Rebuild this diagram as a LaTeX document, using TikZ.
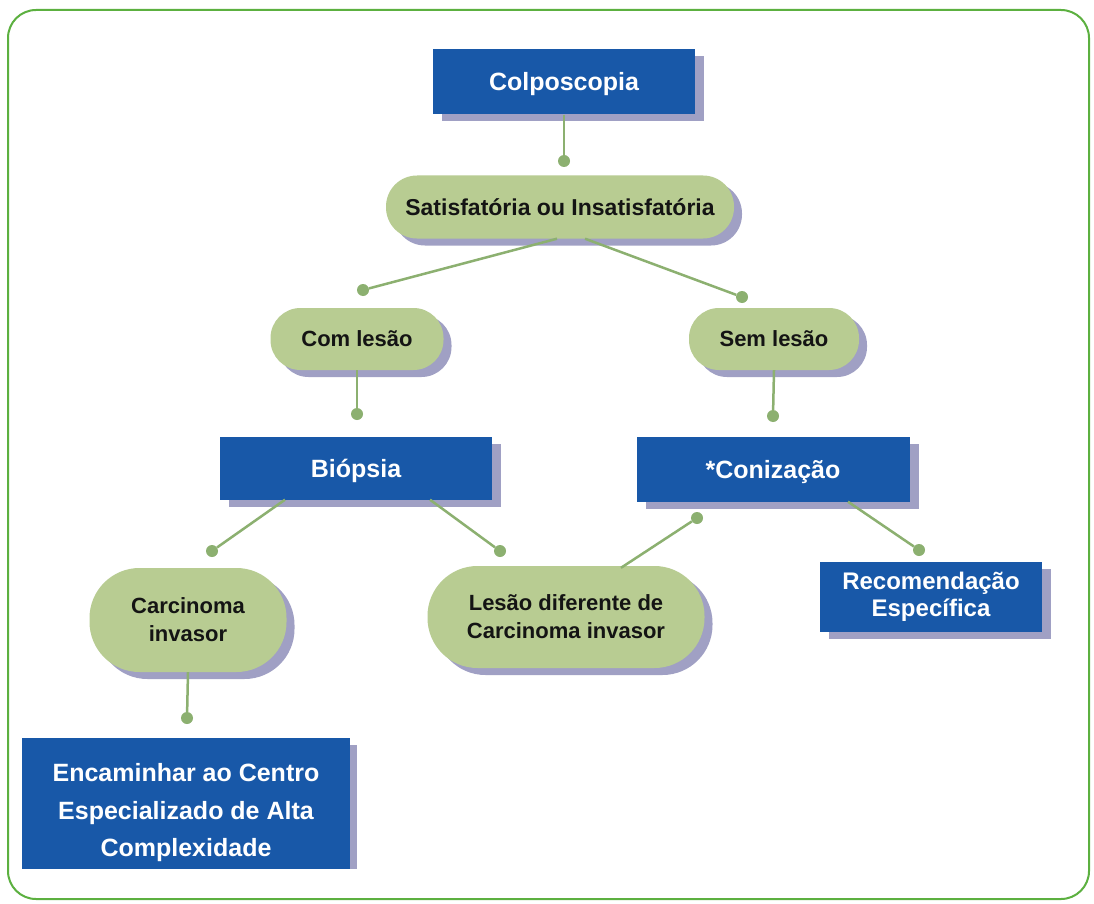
\documentclass[tikz,border=0pt]{standalone}
\usepackage{fontspec}
\setmainfont{Liberation Sans}
\usetikzlibrary{shadows,calc}
\definecolor{boxblue}{RGB}{24,88,168}
\definecolor{shadowc}{RGB}{160,160,196}
\definecolor{pillgreen}{RGB}{184,204,146}
\definecolor{linegreen}{RGB}{140,176,112}
\definecolor{framegreen}{RGB}{92,176,64}
\definecolor{pilltext}{RGB}{20,20,20}
\begin{document}
\begin{tikzpicture}[x=1pt,y=-1pt,
  bluebox/.style={fill=boxblue, text=white, font=\bfseries\fontsize{25}{27}\selectfont,
    align=center, inner sep=0pt,
    drop shadow={shadow xshift=9pt, shadow yshift=-7pt, fill=shadowc, opacity=1}},
  oneline/.style={text height=18pt, text depth=0pt},
  pill/.style={fill=pillgreen, text=pilltext, font=\bfseries\fontsize{22}{28}\selectfont,
    align=center, inner sep=0pt,
    drop shadow={shadow xshift=8pt, shadow yshift=-7pt, fill=shadowc, opacity=1}},
  dot/.style={circle, fill=linegreen, minimum size=12pt, inner sep=0pt},
  conn/.style={linegreen, line width=2.5pt}]
\useasboundingbox (0,0) rectangle (1094,904);
\fill[white] (0,0) rectangle (1094,904);
\draw[framegreen, line width=2pt, rounded corners=28pt] (8,10) rectangle (1089,899);

% nodes
\node[bluebox, oneline, minimum width=262pt, minimum height=65pt] (colp) at (564,82) {Colposcopia};
\node[pill, font=\bfseries\fontsize{23}{28}\selectfont, minimum width=348pt, minimum height=63pt, rounded corners=31pt] (sat) at (560,207) {Satisfatória ou Insatisfatória};
\node[pill, minimum width=173pt, minimum height=62pt, rounded corners=30pt] (com) at (357,339) {Com lesão};
\node[pill, minimum width=170pt, minimum height=62pt, rounded corners=30pt] (sem) at (774,339) {Sem lesão};
\node[bluebox, oneline, minimum width=272pt, minimum height=63pt] (bio) at (356,468) {Biópsia};
\node[bluebox, oneline, minimum width=273pt, minimum height=65pt] (con) at (773,469) {*Conização};
\node[pill, minimum width=197pt, minimum height=104pt, rounded corners=50pt] (car) at (188,620) {Carcinoma\\invasor};
\node[pill, minimum width=277pt, minimum height=102pt, rounded corners=50pt] (les) at (566,617) {Lesão diferente de\\Carcinoma invasor};
\node[bluebox, font=\bfseries\fontsize{24}{27}\selectfont, minimum width=222pt, minimum height=70pt] (rec) at (931,597) {Recomendação\\Específica};
\begin{scope}
\clip (0,0) rectangle (1094,868);
\fill[shadowc] (350,745) rectangle (357,880);
\node[fill=boxblue, text=white, font=\bfseries\fontsize{25}{37.5}\selectfont, align=center,
  inner sep=0pt, minimum width=328pt, minimum height=150pt] (enc) at (186,813)
  {Encaminhar ao Centro\\Especializado de Alta\\Complexidade};
\end{scope}

% dots
\node[dot] (d1) at (564,161) {};
\node[dot] (d2) at (363,290) {};
\node[dot] (d3) at (742,297) {};
\node[dot] (d4) at (357,414) {};
\node[dot] (d5) at (773,416) {};
\node[dot] (d6) at (212,551) {};
\node[dot] (d7) at (500,551) {};
\node[dot] (d8) at (697,518) {};
\node[dot] (d9) at (919,550) {};
\node[dot] (d10) at (187,718) {};

% connectors
\draw[conn] (colp.south) -- (d1);
\draw[conn] ($(sat.south)+(-3,0)$) -- (d2);
\draw[conn] ($(sat.south)+(25,0)$) -- (d3);
\draw[conn] (com.south) -- (d4);
\draw[conn] (sem.south) -- (d5);
\draw[conn] ($(bio.south)+(-71,0)$) -- (d6);
\draw[conn] ($(bio.south)+(74,0)$) -- (d7);
\draw[conn] ($(les.north)+(55,2)$) -- (d8);
\draw[conn] ($(con.south)+(75,0)$) -- (d9);
\draw[conn] (car.south) -- (d10);
\end{tikzpicture}
\end{document}
